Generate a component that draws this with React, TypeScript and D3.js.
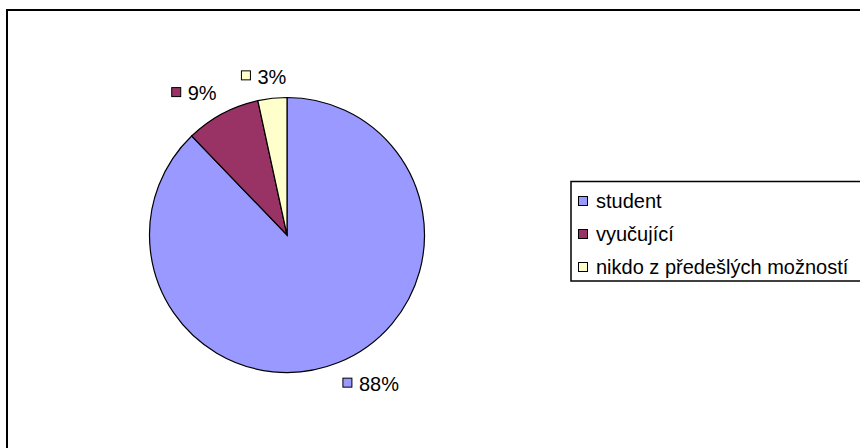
import React from "react";
import * as d3 from "d3";

const categories = ["student", "vyučující", "nikdo z předešlých možností"];
const values = [87.8, 8.8, 3.4];
const labels = ["88%", "9%", "3%"];
const colors = ["#9999FF", "#993366", "#FFFFCC"];

const W = 860;
const H = 448;
const FONT = "'Liberation Sans', Arial, Helvetica, sans-serif";
const FS = 20;

function textWidth(s: string): number {
  if (typeof document === "undefined") return s.length * FS * 0.55;
  const c = document.createElement("canvas").getContext("2d");
  if (!c) return s.length * FS * 0.55;
  c.font = `${FS}px ${FONT}`;
  return c.measureText(s).width;
}

export default function App() {
  const cx = 287;
  const cy = 235;
  const R = 137.5;
  const pie = d3.pie<number>().sort(null).value((d) => d)(values);
  const arc = d3.arc<d3.PieArcDatum<number>>().innerRadius(0).outerRadius(R);

  const sq = 9;
  const labelR = R + 12;

  const legendX = 571;
  const legendY = 181.5;
  const legendRow = 33;

  return (
    <svg
      width={W}
      height={H}
      style={{ position: "absolute", left: 0, top: 0, background: "#fff" }}
      fontFamily={FONT}
    >
      <rect x={0} y={0} width={W} height={H} fill="#fff" />
      <rect x={7} y={10} width={W + 20} height={H + 20} fill="none" stroke="#000" strokeWidth={2} />
      <g transform={`translate(${cx},${cy})`}>
        {pie.map((p, i) => (
          <path key={i} d={arc(p) || ""} fill={colors[i]} stroke="#000" strokeWidth={1.2} />
        ))}
      </g>
      {pie.map((p, i) => {
        const a = (p.startAngle + p.endAngle) / 2;
        const s = Math.sin(a);
        const c = Math.cos(a);
        const px = cx + labelR * s;
        const py = cy - labelR * c;
        const tw = textWidth(labels[i]);
        const w = sq + 7 + tw;
        const h = 20;
        const clamp = (v: number) => Math.max(-1, Math.min(1, v));
        const mx = px + clamp(s * 3) * (w / 2);
        const my = py + clamp(-c * 3) * (h / 2);
        const left = mx - w / 2;
        return (
          <g key={i}>
            <rect x={left} y={my - sq / 2 - 1} width={sq} height={sq} fill={colors[i]} stroke="#000" strokeWidth={1} />
            <text x={left + sq + 7} y={my} dy="0.36em" fontSize={FS} fill="#000">
              {labels[i]}
            </text>
          </g>
        );
      })}
      <rect x={legendX} y={legendY} width={W} height={99.5} fill="#fff" stroke="#000" strokeWidth={1.5} />
      {categories.map((cat, i) => {
        const yc = legendY + 19.5 + i * legendRow;
        return (
          <g key={cat}>
            <rect x={legendX + 7.5} y={yc - sq / 2} width={sq} height={sq} fill={colors[i]} stroke="#000" strokeWidth={1} />
            <text x={legendX + 25} y={yc} dy="0.36em" fontSize={FS} fill="#000">
              {cat}
            </text>
          </g>
        );
      })}
    </svg>
  );
}
